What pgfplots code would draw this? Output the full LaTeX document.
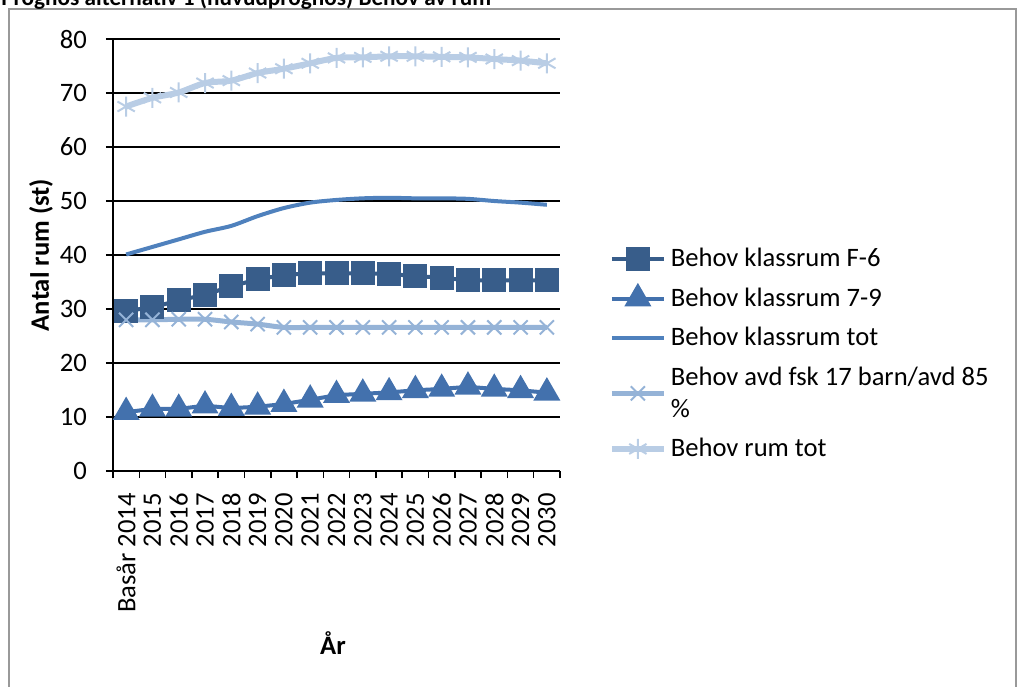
\documentclass[border=0pt]{standalone}
\usepackage{pgfplots}
\pgfplotsset{compat=1.18}
\usepackage{fontspec}
\setmainfont{Carlito}
\definecolor{cF}{RGB}{56,93,138}
\definecolor{cS}{RGB}{67,113,173}
\definecolor{cT}{RGB}{79,129,189}
\definecolor{cA}{RGB}{149,179,215}
\definecolor{cR}{RGB}{185,205,229}
\begin{document}
\begin{tikzpicture}
\useasboundingbox (0,0) rectangle (508.5pt,-343pt);
\draw[black!40, line width=1pt] (4.5pt,-4.5pt) rectangle (508pt,-400pt);
\node[anchor=base west, inner sep=0pt, font=\fontsize{11.6}{13}\selectfont\bfseries] at (0.5pt,-2.5pt) {Prognos alternativ 1 (huvudprognos) Behov av rum};
\begin{axis}[
  at={(56.5pt,-235.5pt)}, anchor=south west,
  scale only axis, width=223.5pt, height=216pt,
  font=\fontsize{13.3}{16}\selectfont,
  /pgf/number format/assume math mode=true,
  xmin=-0.5, xmax=16.5, ymin=0, ymax=80,
  ytick={0,10,...,80},
  yticklabel style={xshift=-6pt},
  xtick={-0.5,0.5,...,16.5}, xticklabels={},
  extra x ticks={0,...,16},
  extra x tick labels={Basår 2014,2015,2016,2017,2018,2019,2020,2021,2022,2023,2024,2025,2026,2027,2028,2029,2030},
  extra x tick style={major tick length=0pt, xticklabel style={rotate=90, anchor=east, xshift=-7.5pt}},
  tick align=outside, major tick length=3.5pt,
  axis lines*=left,
  axis line style={black, line width=0.75pt},
  tick style={black, line width=0.75pt},
  ymajorgrids, grid style={black, line width=0.75pt},
  xlabel={\bfseries År}, ylabel={\bfseries Antal rum (st)},
  xlabel style={at={(axis description cs:0.492,-0.398)}, anchor=center},
  ylabel style={at={(axis description cs:-0.161,0.5)}, anchor=center},
  legend style={draw=none, fill=none, at={(axis description cs:1.095,0.535)}, anchor=north west,
    cells={anchor=west, align=left}, row sep=5pt,
    font=\fontsize{13.3}{16}\selectfont},
  legend image code/.code={\draw[mark repeat=2,mark phase=2] plot coordinates {(0pt,0pt) (13pt,0pt) (26pt,0pt)};},
]
\addplot[cF, line width=2pt, mark=square*, mark size=5pt, mark options={solid}] coordinates {
(0,29.65)(1,30.3)(2,31.6)(3,32.65)(4,34.2)(5,35.5)(6,36.3)(7,36.6)(8,36.6)(9,36.6)(10,36.5)(11,36.1)(12,35.8)(13,35.3)(14,35.3)(15,35.3)(16,35.3)};
\addlegendentry{Behov klassrum F-6}
\addplot[cS, line width=2pt, mark=triangle*, mark size=5.8pt] coordinates {
(0,10.9)(1,11.5)(2,11.5)(3,12.1)(4,11.65)(5,11.9)(6,12.4)(7,13.2)(8,14.05)(9,14.3)(10,14.55)(11,14.95)(12,15.2)(13,15.6)(14,15.2)(15,14.95)(16,14.5)};
\addlegendentry{Behov klassrum 7-9}
\addplot[cT, line width=2pt, smooth] coordinates {
(0,40.1)(1,41.5)(2,42.9)(3,44.3)(4,45.4)(5,47.2)(6,48.7)(7,49.7)(8,50.2)(9,50.5)(10,50.6)(11,50.5)(12,50.5)(13,50.4)(14,50.0)(15,49.7)(16,49.3)};
\addlegendentry{Behov klassrum tot}
\addplot[cA, line width=2.5pt, smooth, mark=x, mark size=5pt, mark options={line width=1pt}] coordinates {
(0,28.0)(1,28.0)(2,28.1)(3,28.1)(4,27.6)(5,27.2)(6,26.6)(7,26.6)(8,26.6)(9,26.6)(10,26.6)(11,26.6)(12,26.6)(13,26.6)(14,26.6)(15,26.6)(16,26.6)};
\addlegendentry{Behov avd fsk 17 barn/avd 85\\\%}
\addplot[cR, line width=3pt, smooth, mark=asterisk, mark size=5pt, mark options={line width=1pt}] coordinates {
(0,67.5)(1,69.1)(2,70.1)(3,71.85)(4,72.3)(5,73.7)(6,74.5)(7,75.5)(8,76.5)(9,76.6)(10,76.8)(11,76.8)(12,76.7)(13,76.6)(14,76.3)(15,76.0)(16,75.5)};
\addlegendentry{Behov rum tot}
\end{axis}
\end{tikzpicture}
\end{document}
